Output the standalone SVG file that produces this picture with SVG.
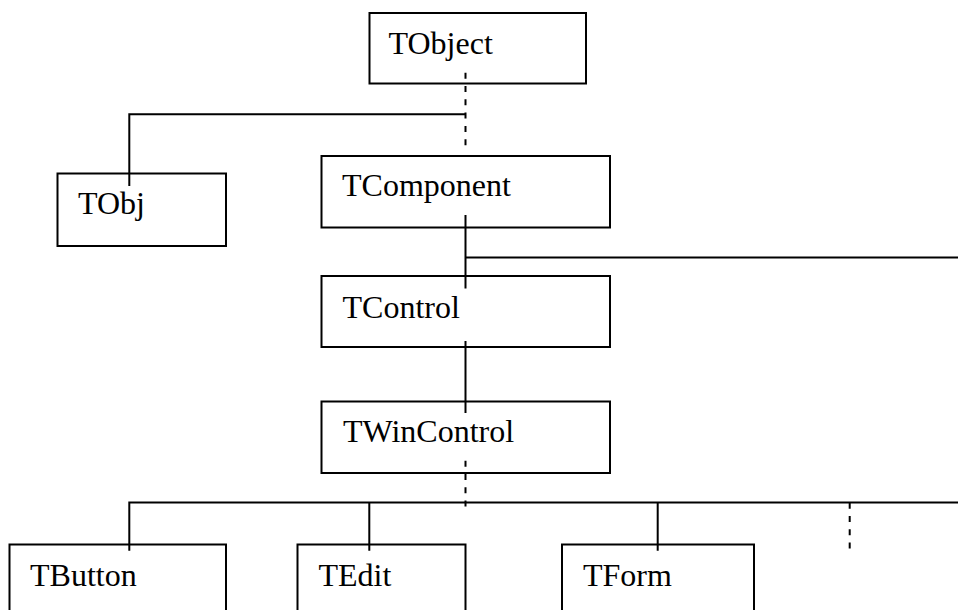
<svg xmlns="http://www.w3.org/2000/svg" width="958" height="610" viewBox="0 0 958 610">
<style>
.box{fill:#fff;stroke:#000;stroke-width:2}
.lbl{font-family:"Liberation Serif","Times New Roman",serif;font-size:32px;fill:#000}
.ln{fill:none;stroke:#000;stroke-width:2}
.dash{fill:none;stroke:#000;stroke-width:2;stroke-dasharray:6 7.3}
</style>
<rect width="958" height="610" fill="#fff"/>
<g id="TObject"><rect class="box" x="369.5" y="13" width="216.5" height="70.5"/><text class="lbl" x="388.5" y="53.5">TObject</text></g>
<g id="TObj"><rect class="box" x="57.5" y="173.5" width="168.5" height="72.5"/><text class="lbl" x="78" y="214">TObj</text></g>
<g id="TComponent"><rect class="box" x="321.5" y="156" width="288.5" height="71.5"/><text class="lbl" x="342" y="196">TComponent</text></g>
<g id="TControl"><rect class="box" x="321.5" y="276" width="288.5" height="71"/><text class="lbl" x="342.5" y="317.5">TControl</text></g>
<g id="TWinControl"><rect class="box" x="321.5" y="401.5" width="288.5" height="71.5"/><text class="lbl" x="343" y="442">TWinControl</text></g>
<g id="TButton"><rect class="box" x="9.5" y="544.5" width="216.5" height="80"/><text class="lbl" x="30" y="586">TButton</text></g>
<g id="TEdit"><rect class="box" x="297.5" y="544.5" width="168" height="80"/><text class="lbl" x="318.5" y="586">TEdit</text></g>
<g id="TForm"><rect class="box" x="562" y="544.5" width="192" height="80"/><text class="lbl" x="583" y="586">TForm</text></g>
<g id="connectors">
<path class="dash" d="M465.5 72.7V150"/>
<path class="ln" d="M465.5 114.3H129.3V186"/>
<path class="ln" d="M465.5 215V288.5M465.5 257.5H958"/>
<path class="ln" d="M465.5 341V413"/>
<path class="dash" d="M465.5 460.7V510"/>
<path class="ln" d="M129.3 550.7V502.5H958M369.3 502.5V550.7M657.7 502.5V550.7"/>
<path class="dash" d="M849.7 502.7V551"/>
</g>
</svg>
